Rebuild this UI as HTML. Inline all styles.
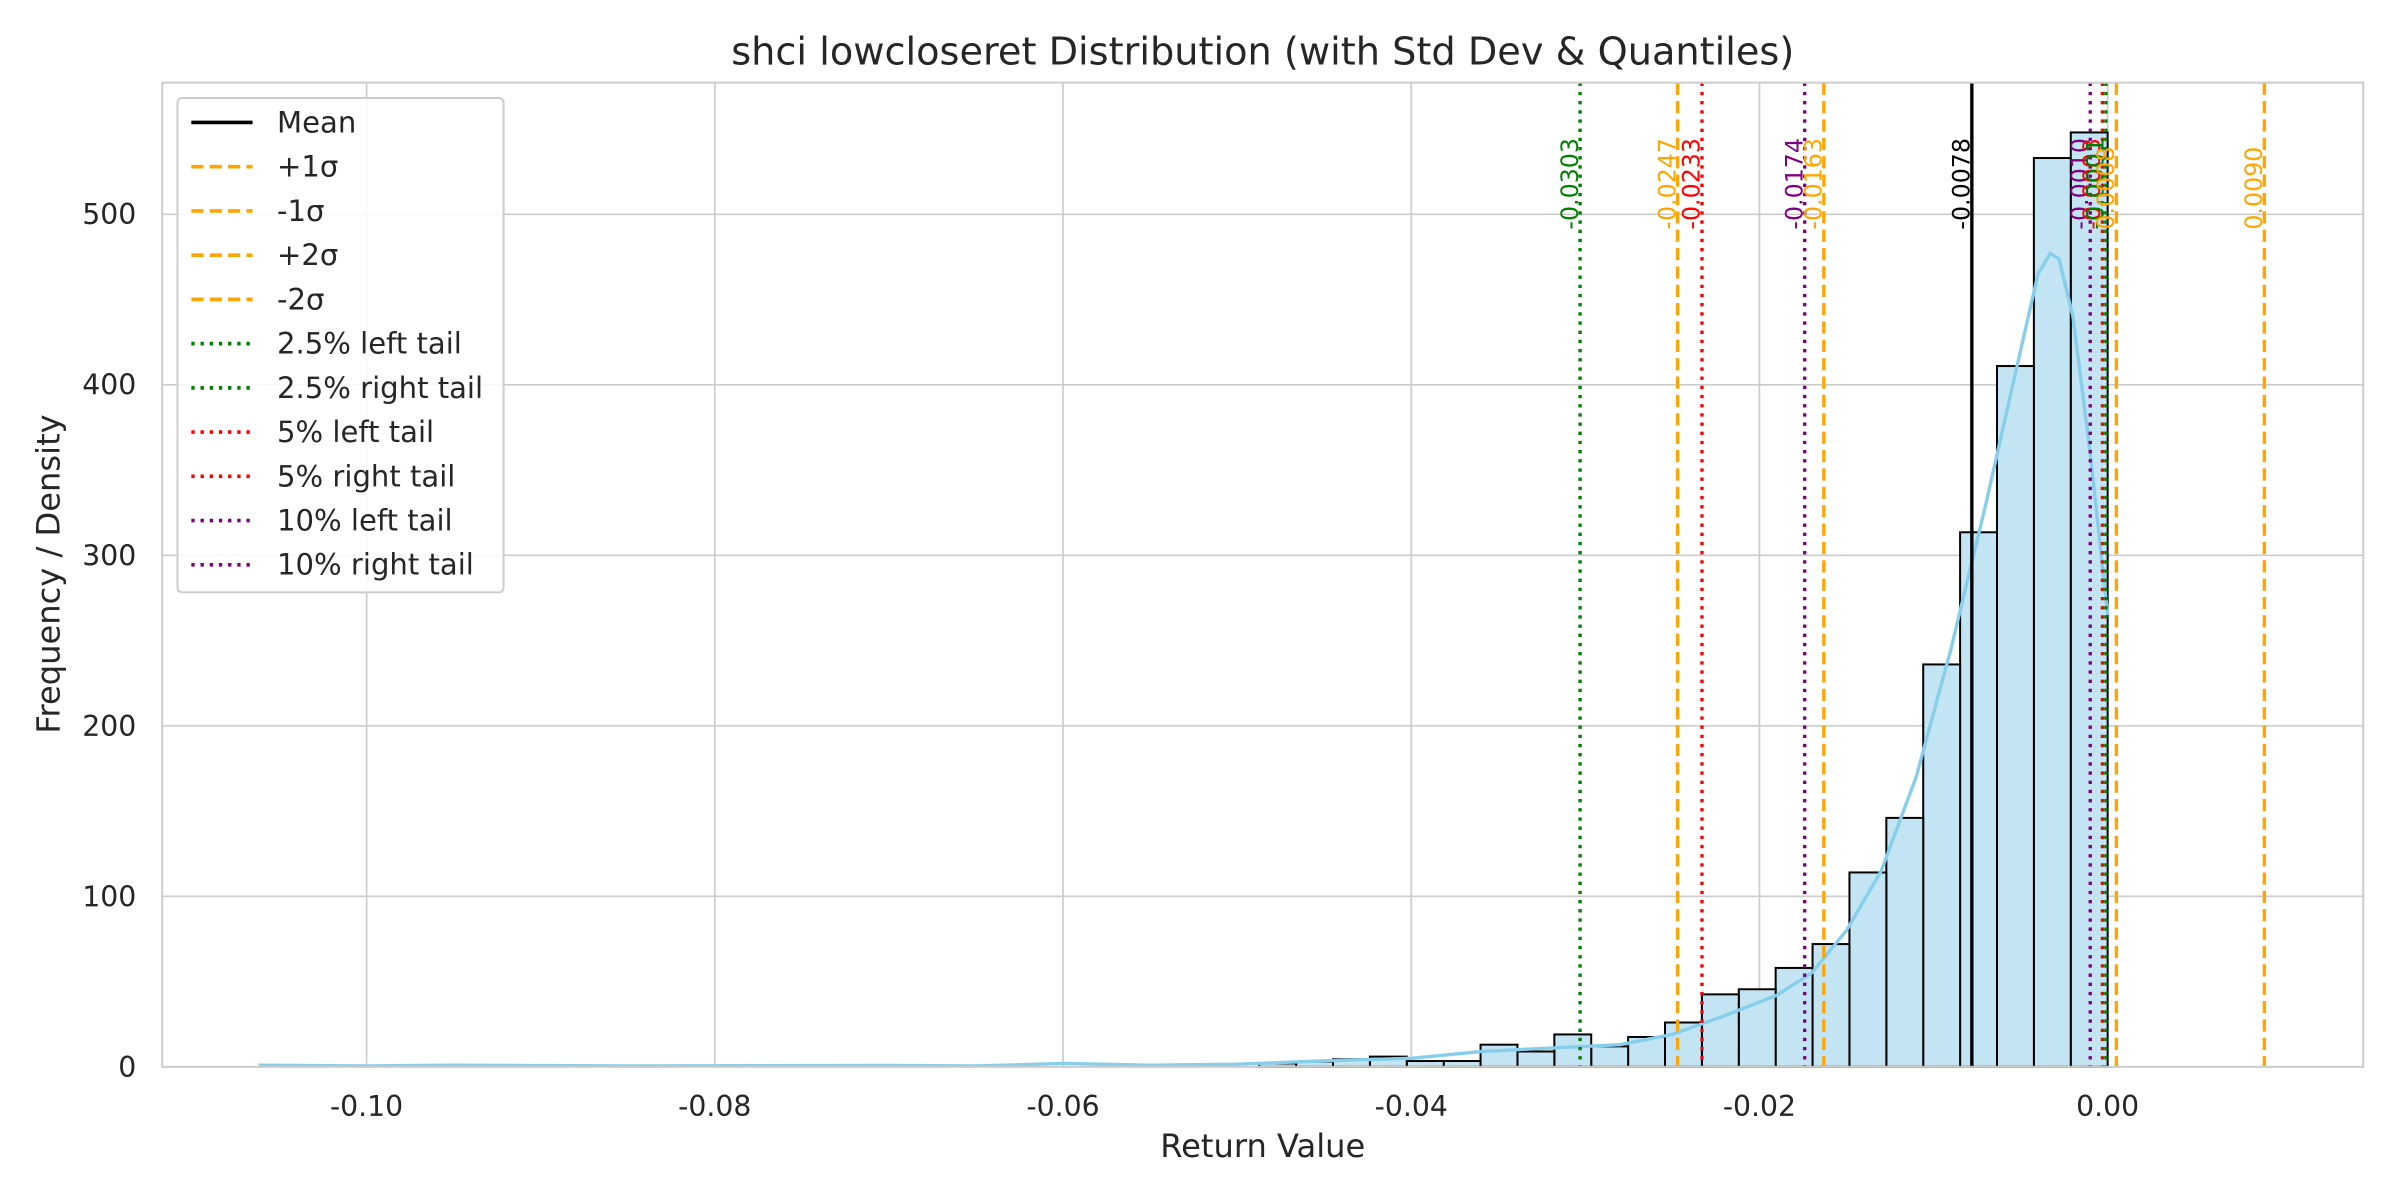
<!DOCTYPE html>
<html><head><meta charset="utf-8"><style>
html,body{margin:0;padding:0;background:#fff}
svg{display:block}
text{font-family:"DejaVu Sans","Liberation Sans",sans-serif;fill:#262626}
</style></head><body>
<svg id="s" width="2400" height="1200" viewBox="0 0 1568 784" xmlns="http://www.w3.org/2000/svg">
<rect width="1568" height="784" fill="#fff"/>
<g id="grid" stroke="#cccccc" stroke-width="1.1"></g>
<g id="bars"></g>
<path id="kde" fill="none" stroke="#87ceeb" stroke-width="2.2"/>
<g id="vl"></g>
<rect x="106" y="54" width="1438" height="643" fill="none" stroke="#cccccc" stroke-width="1.3"/>
<g id="ticks" font-size="18.5"></g>
<text x="825" y="42" font-size="25" text-anchor="middle">shci lowcloseret Distribution (with Std Dev &amp; Quantiles)</text>
<text x="825" y="756" font-size="21" text-anchor="middle">Return Value</text>
<text transform="translate(39,375) rotate(-90)" font-size="21" text-anchor="middle">Frequency / Density</text>
<g id="leg"></g>
</svg>
<script>
const NS="http://www.w3.org/2000/svg";
function el(p,t,a,txt){const e=document.createElementNS(NS,t);for(const k in a)e.setAttribute(k,a[k]);if(txt!==undefined)e.textContent=txt;document.getElementById(p).appendChild(e);return e;}
const X=v=>1377+v*11375, Y=c=>697-c*1.114;
for(let i=0;i<=5;i++){const x=X(-0.02*i);el('grid','line',{x1:x,x2:x,y1:54,y2:697});
 el('ticks','text',{x:x,y:729,'text-anchor':'middle'},(i==0?'0.00':'-0.'+String(2*i).padStart(2,'0')));}
for(let c=0;c<=500;c+=100){const y=Y(c);el('grid','line',{x1:106,x2:1544,y1:y,y2:y});
 el('ticks','text',{x:89,y:y+6.5,'text-anchor':'end'},String(c));}
const h=[548,533,411,313.5,236,146,114,72,58,45.5,42.5,26,17.5,12,19,9,13,3.4,3.4,6,4.5,3,2];
h.forEach((v,k)=>{const r=1377-24.1*k;el('bars','rect',{x:r-24.1,y:Y(v),width:24.1,height:v*1.114,fill:'#c2e4f3',stroke:'#000','stroke-width':1.3});});
const pts=[[-0.1062,1],[-0.1,0.5],[-0.095,1],[-0.085,0.5],[-0.07,0.8],[-0.065,0.5],[-0.06,2],[-0.055,1],[-0.05,1.5],[-0.045,3.5],[-0.04,5],[-0.036,9],[-0.032,11],[-0.028,13],[-0.025,19],[-0.022,30],[-0.019,42],[-0.017,55],[-0.015,80],[-0.013,115],[-0.011,170],[-0.009,245],[-0.007,330],[-0.005,420],[-0.004,465],[-0.0033,477],[-0.0028,474],[-0.002,440],[-0.001,360],[0,265]];
document.getElementById('kde').setAttribute('d','M'+pts.map(p=>X(p[0]).toFixed(1)+','+Y(p[1]).toFixed(1)).join(' L'));
const O='#ffa500',DA='8,4',DO='2.2,3.8';
const L=[[-0.0303,'green',DO,'-0.0303'],[-0.0247,O,DA,'-0.0247'],[-0.0233,'red',DO,'-0.0233'],[-0.0174,'purple',DO,'-0.0174'],[-0.0163,O,DA,'-0.0163'],[-0.0078,'#000','','-0.0078'],[-0.0010,'purple',DO,'-0.0010'],[-0.0003,'red',DO,'-0.0003'],[-0.0001,'green',DO,'-0.0001'],[0.0005,O,DA,'0.0008'],[0.0090,O,DA,'0.0090']];
L.forEach(l=>{const x=X(l[0]);const a={x1:x,x2:x,y1:54,y2:697,stroke:l[1],'stroke-width':2.2};if(l[2])a['stroke-dasharray']=l[2];el('vl','line',a);
 el('vl','text',{transform:`translate(${x-1.5},150) rotate(-90)`,'font-size':15.5,style:'fill:'+l[1]},l[3]);});
el('leg','rect',{x:116,y:64,width:213,height:323,rx:3,fill:'#fff','fill-opacity':0.85,stroke:'#cccccc','stroke-width':1.3});
const G=[['Mean','#000',''],['+1σ',O,DA],['-1σ',O,DA],['+2σ',O,DA],['-2σ',O,DA],['2.5% left tail','green',DO],['2.5% right tail','green',DO],['5% left tail','red',DO],['5% right tail','red',DO],['10% left tail','purple',DO],['10% right tail','purple',DO]];
G.forEach((g,i)=>{const y=80+i*28.9;const a={x1:125,x2:165,y1:y,y2:y,stroke:g[1],'stroke-width':2.4};if(g[2])a['stroke-dasharray']=g[2];el('leg','line',a);
 el('leg','text',{x:181,y:y+6.5,'font-size':19},g[0]);});
</script>
</body></html>
